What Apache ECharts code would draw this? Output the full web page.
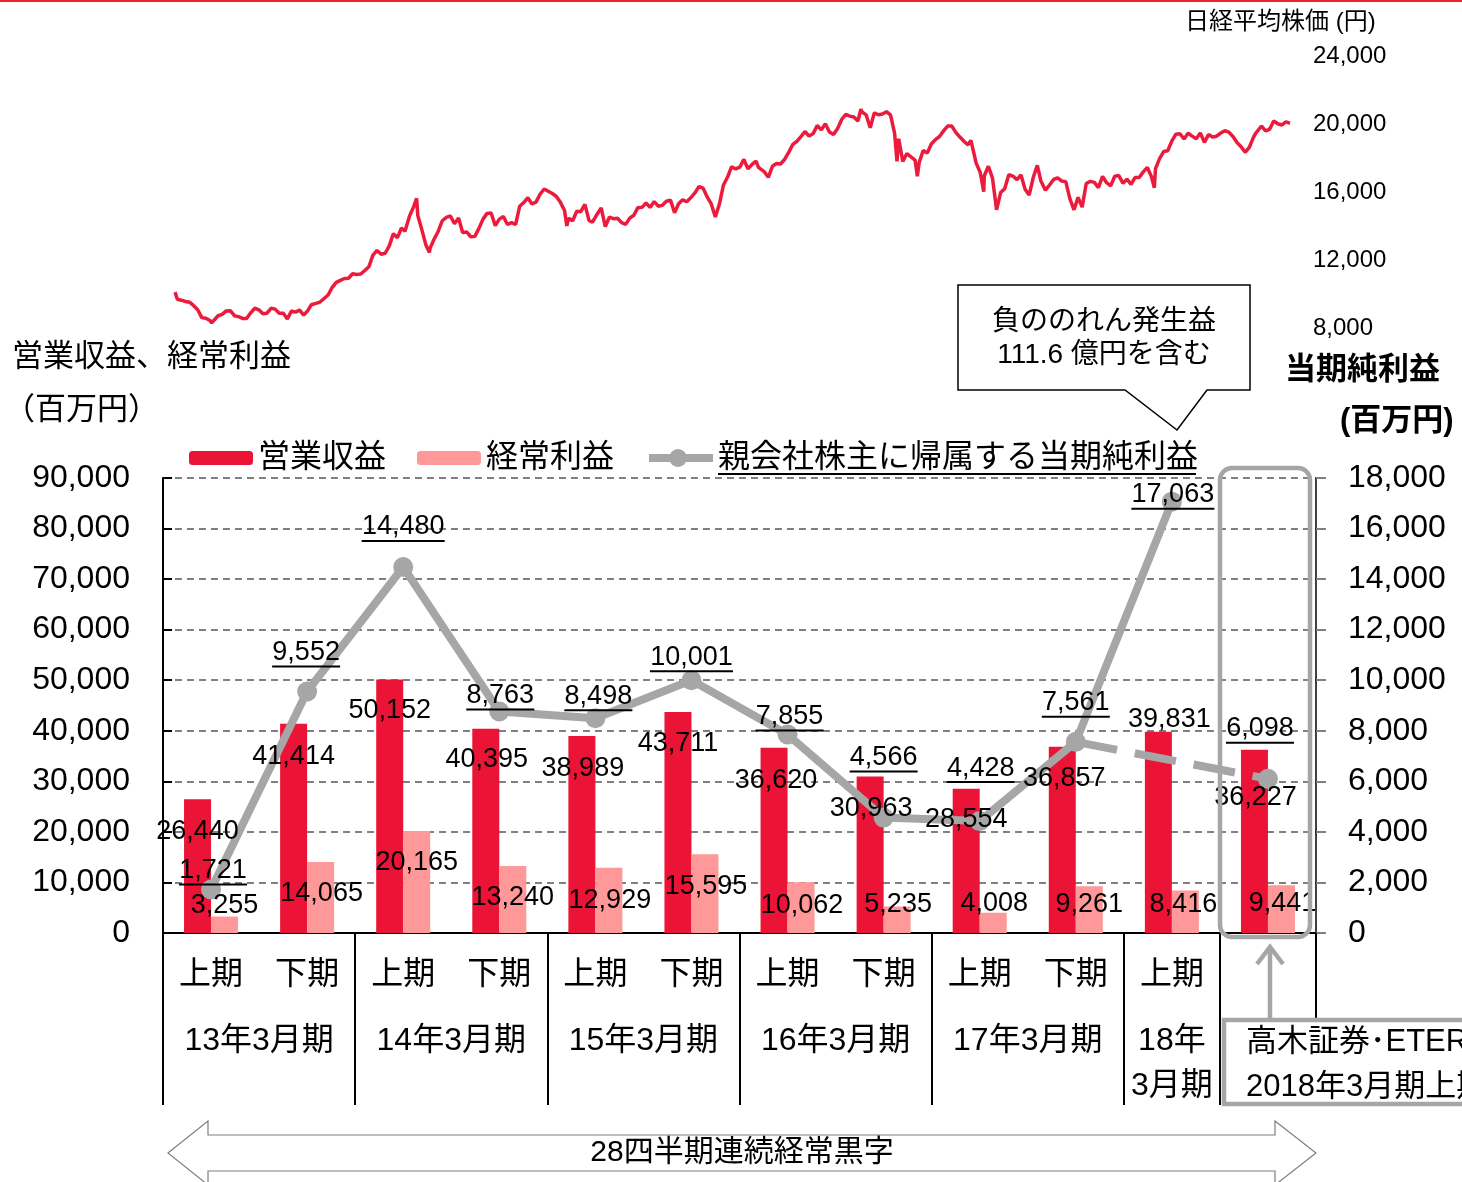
<!DOCTYPE html>
<html><head><meta charset="utf-8">
<script src="https://cdn.jsdelivr.net/npm/echarts@6/dist/echarts.min.js"></script>
<style>html,body{margin:0;padding:0;background:#fff}#c{width:1462px;height:1182px}</style>
</head><body><div id="c"></div>
<script>
// ---------------- DATA ----------------
const periods = ['上期','下期','上期','下期','上期','下期','上期','下期','上期','下期','上期',''];
const fiscalYears = ['13年3月期','14年3月期','15年3月期','16年3月期','17年3月期','18年\n3月期'];
const fiscalYearHalves = [2,2,2,2,2,1];
const revenue = [26440,41414,50152,40395,38989,43711,36620,30963,28554,36857,39831,36227];
const ordinaryIncome = [3255,14065,20165,13240,12929,15595,10062,5235,4008,9261,8416,9441];
const netIncome = [1721,9552,14480,8763,8498,10001,7855,4566,4428,7561,17063,6098];
const proFormaIndex = 11;      // 高木証券・ETERNAL 連結後 (dashed link)
const leftAxis = {min:0, max:90000, step:10000};
const rightAxis = {min:0, max:18000, step:2000};
const nikkeiAxis = {min:8000, max:24000, step:4000};
const nikkeiWeekly = [
['2012-04-02',10109],['2012-04-06',9688],['2012-04-13',9637],['2012-04-20',9561],['2012-04-27',9520],
['2012-05-02',9380],['2012-05-11',9074],['2012-05-18',8611],['2012-05-25',8580],['2012-06-01',8440],
['2012-06-04',8295],['2012-06-08',8459],['2012-06-15',8721],['2012-06-22',8798],['2012-06-29',9006],
['2012-07-06',9020],['2012-07-13',8724],['2012-07-20',8669],['2012-07-27',8566],['2012-08-03',8555],
['2012-08-10',8891],['2012-08-17',9162],['2012-08-24',9070],['2012-08-31',8839],['2012-09-07',8871],
['2012-09-14',9159],['2012-09-21',9110],['2012-09-28',8870],['2012-10-05',8863],['2012-10-12',8534],
['2012-10-19',9002],['2012-10-26',8933],['2012-11-02',9051],['2012-11-09',8757],['2012-11-16',9024],
['2012-11-22',9366],['2012-11-30',9446],['2012-12-07',9527],['2012-12-14',9737],['2012-12-21',9940],
['2012-12-28',10395],
['2013-01-04',10688],['2013-01-11',10801],['2013-01-18',10913],['2013-01-25',10926],['2013-02-01',11191],
['2013-02-08',11153],['2013-02-15',11173],['2013-02-22',11385],['2013-03-01',11606],['2013-03-08',12283],
['2013-03-15',12560],['2013-03-22',12338],['2013-03-29',12397],['2013-04-05',12833],['2013-04-12',13549],
['2013-04-19',13316],['2013-04-26',13884],['2013-05-02',13694],['2013-05-10',14607],['2013-05-17',15138],
['2013-05-22',15627],['2013-05-24',14612],['2013-05-31',13774],['2013-06-07',12877],['2013-06-13',12445],
['2013-06-14',12686],['2013-06-21',13230],['2013-06-28',13677],['2013-07-05',14309],['2013-07-12',14506],
['2013-07-19',14589],['2013-07-26',14130],['2013-08-02',14466],['2013-08-09',13615],['2013-08-16',13650],
['2013-08-23',13360],['2013-08-30',13389],['2013-09-06',13860],['2013-09-13',14405],['2013-09-20',14742],
['2013-09-27',14760],['2013-10-04',14024],['2013-10-11',14404],['2013-10-18',14561],['2013-10-25',14088],
['2013-11-01',14201],['2013-11-08',14086],['2013-11-15',15165],['2013-11-22',15381],['2013-11-29',15661],
['2013-12-06',15299],['2013-12-13',15403],['2013-12-20',15870],['2013-12-27',16178],['2013-12-30',16291],
['2014-01-10',15912],['2014-01-17',15734],['2014-01-24',15391],['2014-01-31',14914],['2014-02-04',14008],
['2014-02-07',14462],['2014-02-14',14313],['2014-02-21',14865],['2014-02-28',14841],['2014-03-07',15274],
['2014-03-14',14327],['2014-03-20',14224],['2014-03-28',14696],['2014-04-04',15063],['2014-04-11',13960],
['2014-04-18',14516],['2014-04-25',14429],['2014-05-02',14457],['2014-05-09',14199],['2014-05-16',14097],
['2014-05-23',14462],['2014-05-30',14632],['2014-06-06',15077],['2014-06-13',15097],['2014-06-20',15349],
['2014-06-27',15095],['2014-07-04',15437],['2014-07-11',15164],['2014-07-18',15215],['2014-07-25',15457],
['2014-08-01',15523],['2014-08-08',14778],['2014-08-15',15318],['2014-08-22',15539],['2014-08-29',15425],
['2014-09-05',15669],['2014-09-12',15948],['2014-09-19',16321],['2014-09-26',16229],['2014-10-03',15708],
['2014-10-10',15300],['2014-10-17',14532],['2014-10-24',15291],['2014-10-31',16413],['2014-11-07',16880],
['2014-11-14',17490],['2014-11-21',17357],['2014-11-28',17459],['2014-12-05',17920],['2014-12-12',17371],
['2014-12-19',17621],['2014-12-26',17818],['2014-12-30',17450],
['2015-01-09',17197],['2015-01-16',16864],['2015-01-23',17511],['2015-01-30',17674],['2015-02-06',17648],
['2015-02-13',17913],['2015-02-20',18332],['2015-02-27',18797],['2015-03-06',18971],['2015-03-13',19254],
['2015-03-20',19560],['2015-03-27',19286],['2015-04-03',19435],['2015-04-10',19908],['2015-04-17',19653],
['2015-04-24',20020],['2015-05-01',19531],['2015-05-08',19379],['2015-05-15',19733],['2015-05-22',20264],
['2015-05-29',20563],['2015-06-05',20461],['2015-06-12',20407],['2015-06-19',20174],['2015-06-24',20868],
['2015-06-26',20706],['2015-07-03',20539],['2015-07-10',19780],['2015-07-17',20650],['2015-07-24',20544],
['2015-07-31',20585],['2015-08-07',20724],['2015-08-10',20808],['2015-08-14',20519],['2015-08-21',19435],
['2015-08-25',17806],['2015-08-28',19136],['2015-09-04',17792],['2015-09-11',18264],['2015-09-18',18070],
['2015-09-25',17880],['2015-09-29',16930],['2015-10-02',17725],['2015-10-09',18438],['2015-10-16',18291],
['2015-10-23',18826],['2015-10-30',19083],['2015-11-06',19265],['2015-11-13',19597],['2015-11-20',19880],
['2015-11-27',19884],['2015-12-04',19504],['2015-12-11',19230],['2015-12-18',18986],['2015-12-25',18770],
['2015-12-30',19034],
['2016-01-08',17698],['2016-01-15',17147],['2016-01-21',16017],['2016-01-22',16959],['2016-01-29',17518],
['2016-02-05',16820],['2016-02-12',14953],['2016-02-19',15967],['2016-02-26',16188],['2016-03-04',17015],
['2016-03-11',16938],['2016-03-18',16725],['2016-03-25',17002],['2016-04-01',16164],['2016-04-08',15821],
['2016-04-15',16848],['2016-04-22',17572],['2016-04-28',16666],['2016-05-06',16106],['2016-05-13',16412],
['2016-05-20',16736],['2016-05-27',16835],['2016-06-03',16642],['2016-06-10',16601],['2016-06-17',15599],
['2016-06-24',14952],['2016-07-01',15682],['2016-07-08',15107],['2016-07-15',16497],['2016-07-22',16627],
['2016-07-29',16569],['2016-08-05',16254],['2016-08-12',16920],['2016-08-19',16545],['2016-08-26',16360],
['2016-09-02',16925],['2016-09-09',16965],['2016-09-16',16519],['2016-09-23',16754],['2016-09-30',16450],
['2016-10-07',16860],['2016-10-14',16856],['2016-10-21',17184],['2016-10-28',17446],['2016-11-04',16905],
['2016-11-09',16251],['2016-11-11',17374],['2016-11-18',17968],['2016-11-25',18381],['2016-12-02',18426],
['2016-12-09',18996],['2016-12-16',19401],['2016-12-23',19428],['2016-12-30',19114],
['2017-01-06',19454],['2017-01-13',19287],['2017-01-20',19137],['2017-01-27',19467],['2017-02-03',18918],
['2017-02-10',19378],['2017-02-17',19234],['2017-02-24',19283],['2017-03-03',19469],['2017-03-10',19604],
['2017-03-17',19521],['2017-03-24',19262],['2017-03-31',18909],['2017-04-07',18664],['2017-04-14',18335],
['2017-04-21',18620],['2017-04-28',19196],['2017-05-02',19445],['2017-05-12',19883],['2017-05-19',19590],
['2017-05-26',19686],['2017-06-02',20177],['2017-06-09',20013],['2017-06-16',19943],['2017-06-23',20132],
['2017-06-30',20033]
];

// ---------------- STYLE ----------------
const FONT = '"Liberation Sans", "Noto Sans CJK JP", sans-serif';
const RED = '#EB1436', PINK = '#FF9999', GRAY = '#A6A6A6';
const BAR_W = 27, LABEL_FS = 27;
// label placement: [dx, dy] relative to bar centre / bar top, or to the point
const revLabelOffset = [[0,32],[0,33],[0,31],[1,31],[1,33],[0,32],[2,33],[1,32],[0,31],[2,32],[11,-12],[1,48]];
const oiLabelOffset  = [[0,-11],[1,32],[0,31],[0,31],[1,33],[1,32],[1,23],[1,-2],[1,-9],[0,18],[-2,14],[1,18]];
const netLabelOffset = [[2,-18],[-1,-38],[0,-39],[1,-15],[3,-21],[0,-22],[2,-17],[0,-59],[1,-52],[0,-38],[1,-6],[-8,-49]];

const fmt = v => Number(v).toLocaleString('en-US');
const mctx = document.createElement('canvas').getContext('2d');
mctx.font = LABEL_FS + 'px "Liberation Sans"';
const tw = s => Math.round(mctx.measureText(s).width);

// fiscal-year tick / label positions from the half-year counts
const fyBounds = [0]; fiscalYearHalves.forEach(h => fyBounds.push(fyBounds[fyBounds.length-1] + h));
const fyCenters = fiscalYearHalves.map((h, i) => fyBounds[i] + h / 2);
const fyTicks = fyBounds.concat([periods.length]);

// label carriers (invisible points at bar tops) so bar labels sit above the line
const barLabelData = (values, offs, side) => values.map((v, i) => ({
  value: v,
  label: {offset: [offs[i][0] + side * BAR_W / 2, offs[i][1]]}
}));
const barLabelSeries = (name, values, offs, side) => ({
  name: name, type: 'scatter', xAxisIndex: 1, yAxisIndex: 1, symbolSize: 2, z: 8, silent: true,
  itemStyle: {color: 'rgba(0,0,0,0)', opacity: 1},
  label: {show: true, position: ['50%', '50%'], align: 'center', verticalAlign: 'middle', opacity: 1,
          fontSize: LABEL_FS, color: '#000', fontFamily: FONT, formatter: p => fmt(p.value)},
  data: barLabelData(values, offs, side)
});
const netLabelRich = {
  t: {fontSize: LABEL_FS, lineHeight: 26, fontFamily: FONT, color: '#000', align: 'center'},
  u5: {width: tw('0,000'), height: 2, backgroundColor: '#000'},
  u6: {width: tw('00,000'), height: 2, backgroundColor: '#000'}
};
const netFormatter = p => { const s = fmt(p.value); return '{t|' + s + '}\n{u' + s.length + '|}'; };
const netItem = (v, i) => v == null ? null : ({
  value: v,
  label: {offset: [netLabelOffset[i][0], netLabelOffset[i][1]]}
});

const solidNet = netIncome.map((v, i) => i < proFormaIndex ? netItem(v, i) : null);
const dashedNet = netIncome.map((v, i) => {
  if (i === proFormaIndex) return netItem(v, i);
  if (i === proFormaIndex - 2) return {value: v, symbol: 'none', label: {show: false}};
  return null;
});

const chart = echarts.init(document.getElementById('c'));
const txt = (text, x, y, size, opts) => Object.assign({
  type: 'text', x: x, y: y, z: 50,
  style: Object.assign({text: text, font: size + 'px ' + FONT, fill: '#000', align: 'left', verticalAlign: 'middle'}, (opts || {}).style || {})
}, (opts || {}).el || {});

chart.setOption({
  animation: false,
  backgroundColor: '#fff',
  textStyle: {fontFamily: FONT},
  grid: [
    {left: 175, right: 172, top: 56, height: 272},
    {left: 163, right: 146, top: 478, height: 455}
  ],
  legend: {
    left: 189, top: 442, padding: 0, itemWidth: 64, itemHeight: 14, itemGap: 31,
    data: ['営業収益', '経常利益', {name: '親会社株主に帰属する当期純利益', lineStyle: {width: 8}}],
    textStyle: {fontSize: 32, color: '#000', fontFamily: FONT, lineHeight: 32}
  },
  xAxis: [
    {type: 'time', gridIndex: 0, min: nikkeiWeekly[0][0], max: nikkeiWeekly[nikkeiWeekly.length-1][0], show: false},
    {type: 'category', gridIndex: 1, position: 'bottom', data: periods,
     axisLine: {lineStyle: {color: '#000', width: 2}},
     axisTick: {length: 67, lineStyle: {color: '#000', width: 2}},
     axisLabel: {fontSize: 32, color: '#000', margin: 27, lineHeight: 30, fontFamily: FONT, interval: 0}},
    {type: 'value', gridIndex: 1, position: 'bottom', min: 0, max: periods.length, offset: 0,
     axisLine: {show: false},
     splitLine: {show: false},
     axisTick: {show: true, length: 172, customValues: fyTicks, lineStyle: {color: '#000', width: 2}},
     axisLabel: {show: true, customValues: fyCenters, margin: 86, lineHeight: 45, fontSize: 32, color: '#000', fontFamily: FONT,
       formatter: v => { const k = fyCenters.indexOf(v); return k >= 0 ? fiscalYears[k] : ''; }}}
  ],
  yAxis: [
    {type: 'value', gridIndex: 0, position: 'right', min: nikkeiAxis.min, max: nikkeiAxis.max, interval: nikkeiAxis.step,
     axisLine: {show: false}, axisTick: {show: false}, splitLine: {show: false},
     axisLabel: {fontSize: 24, color: '#000', margin: 23, fontFamily: FONT, formatter: fmt}},
    {type: 'value', gridIndex: 1, position: 'left', min: leftAxis.min, max: leftAxis.max, interval: leftAxis.step,
     axisLine: {show: true, lineStyle: {color: '#000', width: 2}},
     axisTick: {show: true, inside: true, length: 9, lineStyle: {color: '#000', width: 2}},
     axisLabel: {fontSize: 32, color: '#000', margin: 33, fontFamily: FONT, formatter: fmt},
     splitLine: {show: true, lineStyle: {color: '#808080', width: 2, type: [7, 5]}}},
    {type: 'value', gridIndex: 1, position: 'right', min: rightAxis.min, max: rightAxis.max, interval: rightAxis.step,
     axisLine: {show: true, lineStyle: {color: '#000', width: 1.5}},
     axisTick: {show: true, length: 10, lineStyle: {color: '#808080', width: 2}},
     axisLabel: {fontSize: 32, color: '#000', margin: 32, fontFamily: FONT, formatter: fmt},
     splitLine: {show: false}}
  ],
  series: [
    {name: '日経平均株価', type: 'line', xAxisIndex: 0, yAxisIndex: 0, data: nikkeiWeekly,
     showSymbol: false, symbol: 'none', lineStyle: {color: '#EC1A3B', width: 3.5}, z: 2},
    {name: '営業収益', type: 'bar', xAxisIndex: 1, yAxisIndex: 1, barWidth: BAR_W, barGap: '0%',
     itemStyle: {color: RED}, z: 2, data: revenue},
    {name: '経常利益', type: 'bar', xAxisIndex: 1, yAxisIndex: 1, barWidth: BAR_W, barGap: '0%',
     itemStyle: {color: PINK}, z: 2, data: ordinaryIncome},
    {name: '親会社株主に帰属する当期純利益', type: 'line', xAxisIndex: 1, yAxisIndex: 2,
     symbol: 'circle', symbolSize: 20, z: 4,
     lineStyle: {color: GRAY, width: 8}, itemStyle: {color: GRAY},
     label: {show: true, position: ['50%', '50%'], align: 'center', verticalAlign: 'middle', formatter: netFormatter, rich: netLabelRich},
     data: solidNet},
    {name: '純利益(連結範囲変更後)', type: 'line', xAxisIndex: 1, yAxisIndex: 2, connectNulls: true,
     symbol: 'circle', symbolSize: 20, z: 4,
     lineStyle: {color: GRAY, width: 8, type: [42, 18]}, itemStyle: {color: GRAY},
     label: {show: true, position: ['50%', '50%'], align: 'center', verticalAlign: 'middle', formatter: netFormatter, rich: netLabelRich},
     data: dashedNet},
    barLabelSeries('営業収益ラベル', revenue, revLabelOffset, -1),
    barLabelSeries('経常利益ラベル', ordinaryIncome, oiLabelOffset, 1)
  ],
  graphic: {elements: [
    {type: 'rect', shape: {x: 0, y: 0, width: 1462, height: 2}, style: {fill: '#F0202C'}, z: 50},
    txt('日経平均株価 (円)', 1185, 22, 24),
    txt('営業収益、経常利益', 12, 357, 31),
    txt('（百万円）', 4, 410, 31),
    txt('当期純利益', 1285, 370, 31, {style: {font: 'bold 31px ' + FONT}}),
    txt('(百万円)', 1340, 421, 31, {style: {font: 'bold 31px ' + FONT}}),
    {type: 'circle', z: 50, shape: {cx: 678, cy: 458, r: 9}, style: {fill: GRAY}},
    {type: 'polygon', z: 40, shape: {points: [[958,285],[1250,285],[1250,390],[1207,390],[1177,430],[1125,390],[958,390]]},
     style: {fill: '#fff', stroke: '#000', lineWidth: 1.5}},
    txt('負ののれん発生益', 1104, 322, 28, {style: {align: 'center'}}),
    txt('111.6 億円を含む', 1104, 355, 28, {style: {align: 'center'}}),
    {type: 'line', z: 50, shape: {x1: 718, y1: 474, x2: 1196, y2: 474}, style: {stroke: '#000', lineWidth: 2}},
    {type: 'rect', z: 60, shape: {x: 1220, y: 468, width: 90, height: 469, r: 12}, style: {fill: null, stroke: GRAY, lineWidth: 4.5}},
    {type: 'line', z: 60, shape: {x1: 1270, y1: 1020, x2: 1270, y2: 947}, style: {stroke: GRAY, lineWidth: 4.5}},
    {type: 'polyline', z: 60, shape: {points: [[1257,964],[1270,947],[1283,964]]}, style: {stroke: GRAY, lineWidth: 4.5, fill: null}},
    {type: 'rect', z: 60, shape: {x: 1224, y: 1020, width: 270, height: 84}, style: {fill: '#fff', stroke: GRAY, lineWidth: 4.5}},
    txt('高木証券･ETERNAL', 1246, 1042, 31, {el: {z: 61}}),
    txt('2018年3月期上期より連結', 1246, 1087, 31, {el: {z: 61}}),
    {type: 'polygon', z: 40, shape: {points: [[168,1153],[208,1121],[208,1135],[1275,1135],[1275,1121],[1316,1153],[1275,1185],[1275,1171],[208,1171],[208,1185]]},
     style: {fill: '#fff', stroke: '#7F7F7F', lineWidth: 1.2}},
    txt('28四半期連続経常黒字', 742, 1153, 30, {style: {align: 'center'}})
  ]}
});
</script>
</body></html>
